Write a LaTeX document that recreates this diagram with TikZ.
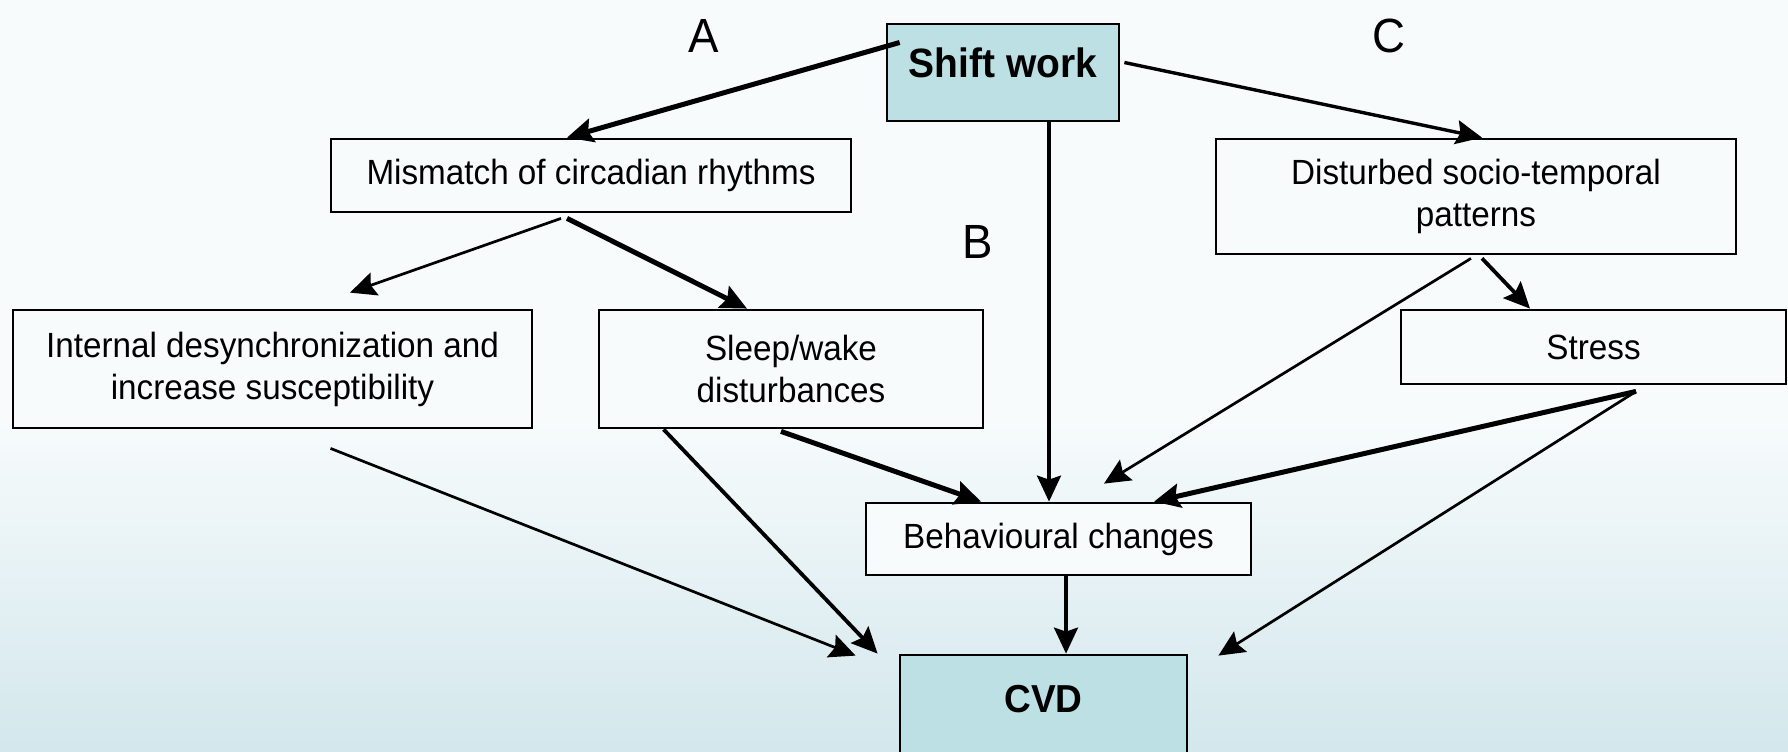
\documentclass[tikz,border=0pt]{standalone}
\usepackage{fontspec}
\setmainfont{Liberation Sans}[FakeStretch=0.95]
\usetikzlibrary{arrows.meta}
\definecolor{boxfill}{HTML}{BCE0E3}
\definecolor{bgtop}{HTML}{F7FBFC}
\definecolor{bgbot}{HTML}{D3E7EC}
\begin{document}
\begin{tikzpicture}[
    x=0.5pt, y=-0.5pt,
    every node/.style = {align=center, font=\fontsize{17.5}{21}\selectfont},
    box/.style = {draw=black, line width=1.4pt, fill=bgtop, inner sep=0pt},
    keybox/.style = {box, fill=boxfill, font=\bfseries\fontsize{20.5}{24}\selectfont},
    tag/.style = {font=\fontsize{24}{28}\selectfont},
    arr/.style = {-{Stealth[length=13pt,width=12pt,inset=2pt]}, line width=1.35pt},
    fatarr/.style = {arr, line width=2.5pt}
    ]
    \path[use as bounding box, fill=bgtop] (0,0) rectangle (1788,751);
    \clip (0,0) rectangle (1788,751);
    \shade[top color=bgtop, bottom color=bgbot] (0,420) rectangle (1788,751);

    % boxes
    \node[keybox, minimum width=116pt, minimum height=48.5pt, text height=15pt, text depth=10.4pt] (shift) at (1003,72.5) {Shift work};
    \node[box, minimum width=260pt, minimum height=36.5pt] (mismatch) at (591,175.5) {Mismatch of circadian rhythms};
    \node[box, minimum width=260pt, minimum height=57.5pt] (disturbed) at (1476,196.5) {Disturbed socio-temporal\\patterns};
    \node[box, minimum width=259.5pt, minimum height=59pt] (internal) at (272.5,369) {Internal desynchronization and\\increase susceptibility};
    \node[box, minimum width=192pt, minimum height=59pt] (sleep) at (791,369) {Sleep/wake\\disturbances};
    \node[box, minimum width=192.5pt, minimum height=37pt] (stress) at (1593.5,347) {Stress};
    \node[box, minimum width=192.5pt, minimum height=36pt] (behav) at (1058.5,539) {Behavioural changes};
    \node[keybox, font=\bfseries\fontsize{19.5}{24}\selectfont, minimum width=143.5pt, minimum height=65pt, text height=15pt, text depth=23pt] (cvd) at (1043.5,720) {CVD};

    % path letters
    \node[tag] (tagA) at (704,36) {A};
    \node[tag] (tagB) at (978,242) {B};
    \node[tag] (tagC) at (1389,36) {C};

    % arrows
    \draw[fatarr] ([xshift=7pt,yshift=15pt]shift.west) -- ([xshift=-12pt]mismatch.north);
    \draw[arr, line width=1.7pt] ([xshift=2pt,yshift=5pt]shift.east) -- ([xshift=3pt]disturbed.north);
    \draw[arr, line width=1.7pt] ([xshift=23pt]shift.south) -- ([xshift=-4.75pt]behav.north);
    \draw[arr] ([xshift=-15pt,yshift=-2.5pt]mismatch.south) -- ([xshift=38.75pt,yshift=8pt]internal.north);
    \draw[fatarr] ([xshift=-12pt,yshift=-2.5pt]mismatch.south) -- ([xshift=-22pt]sleep.north);
    \draw[arr] ([xshift=29pt,yshift=-9.5pt]internal.south) -- ([xshift=-21.5pt,yshift=-1pt]cvd.north west);
    \draw[arr, line width=1.9pt] ([xshift=33pt]sleep.south west) -- ([xshift=-10.5pt]cvd.north west);
    \draw[fatarr] ([xshift=-5pt,yshift=-1pt]sleep.south) -- ([xshift=-38.75pt]behav.north);
    \draw[arr] ([xshift=-2.5pt,yshift=-1.5pt]disturbed.south) -- ([xshift=22.75pt,yshift=9pt]behav.north);
    \draw[arr, line width=1.9pt] ([xshift=3pt,yshift=-1.5pt]disturbed.south) -- ([xshift=-31.75pt]stress.north);
    \draw[fatarr] ([xshift=21.25pt,yshift=-3pt]stress.south) -- ([xshift=47.75pt]behav.north);
    \draw[arr] ([xshift=21.25pt,yshift=-3pt]stress.south) -- ([xshift=15pt,yshift=-1pt]cvd.north east);
    \draw[arr, line width=1.7pt] ([xshift=3.75pt]behav.south) -- ([xshift=11.25pt]cvd.north);
\end{tikzpicture}
\end{document}
